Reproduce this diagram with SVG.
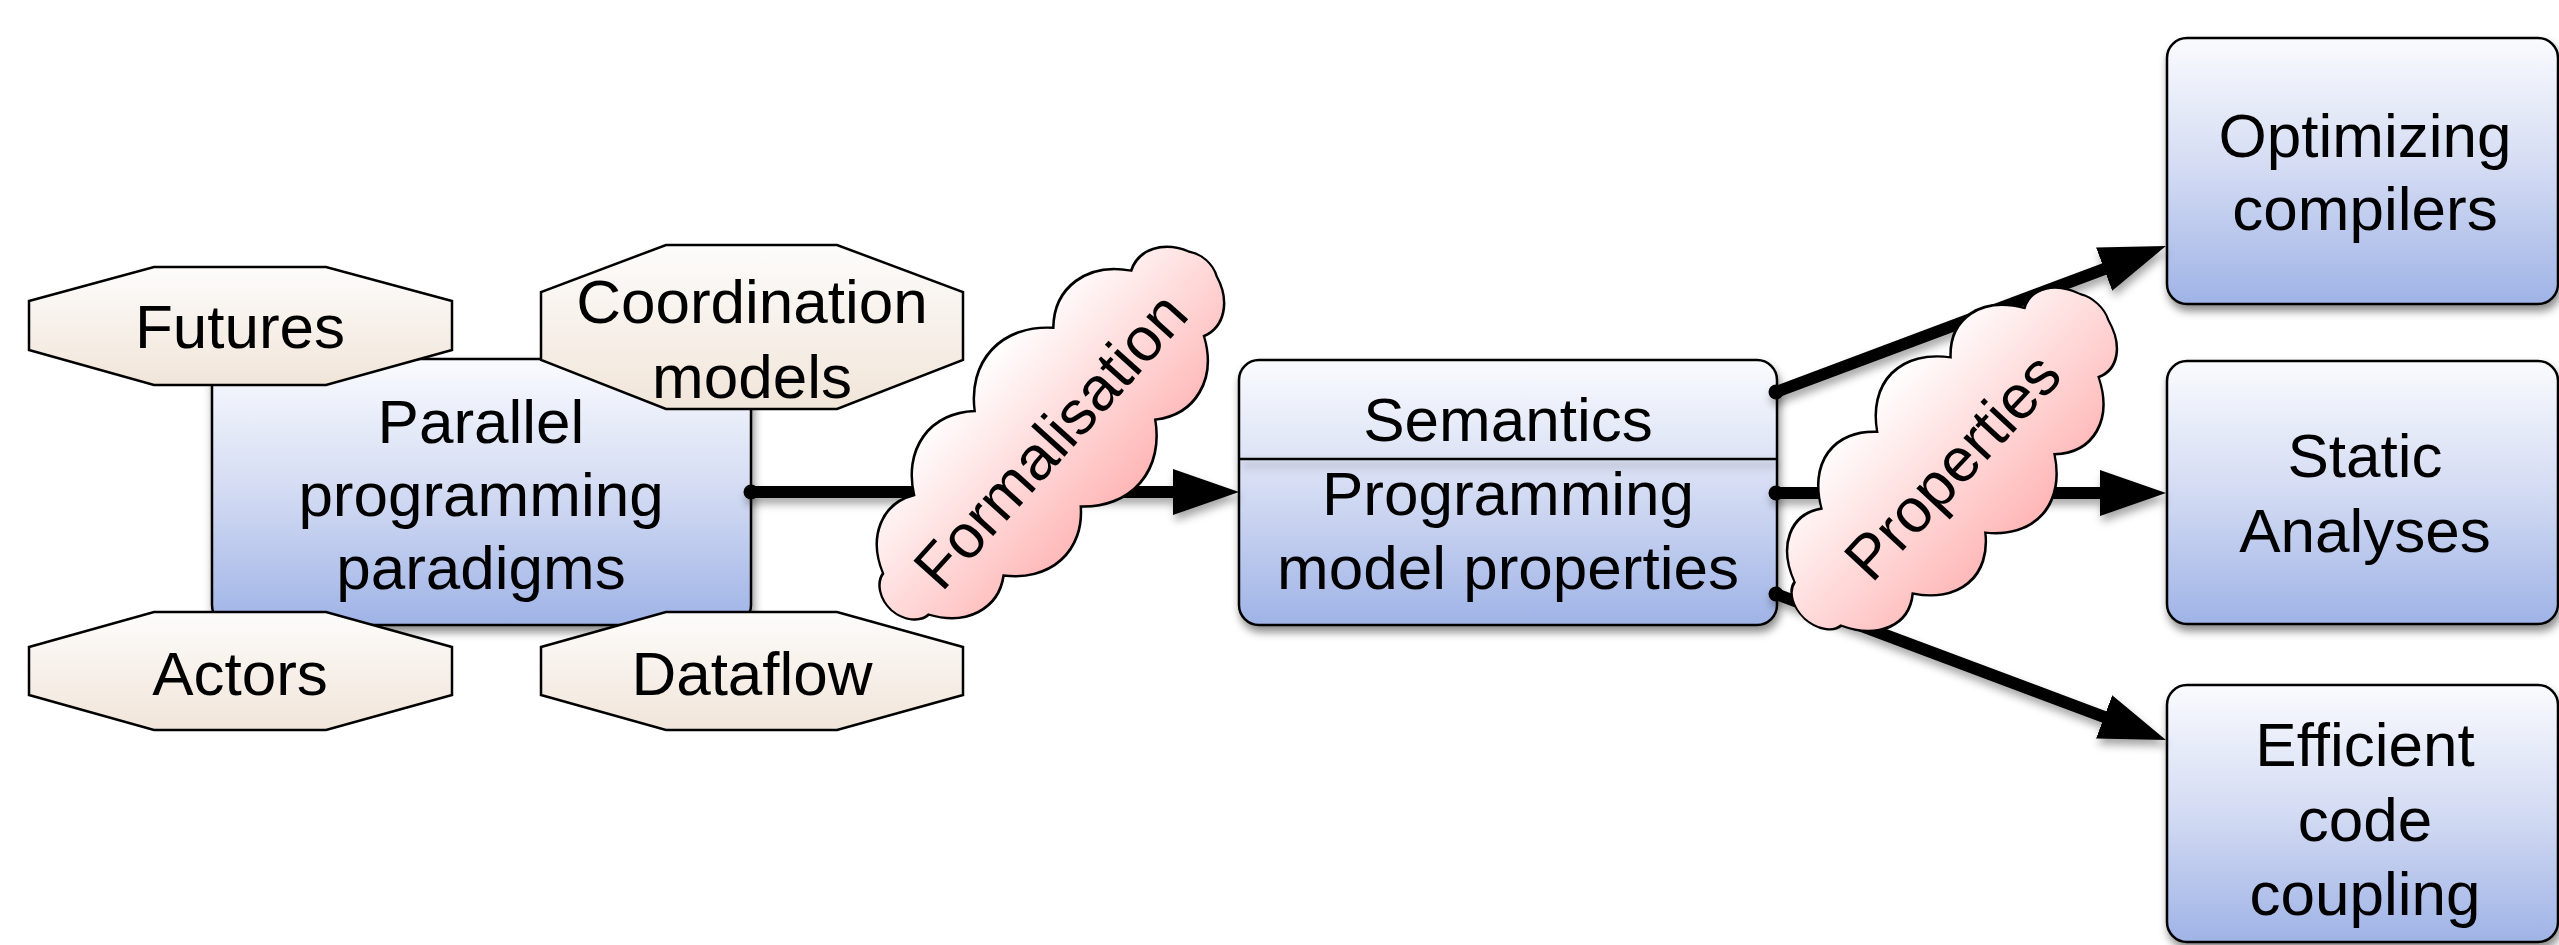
<svg xmlns="http://www.w3.org/2000/svg" width="2559" height="945" viewBox="0 0 2559 945">
  <style>
    text { font-family: "Liberation Sans", Arial, Helvetica, sans-serif; font-size: 62px; fill: #000; text-anchor: middle; }
    .box { fill: url(#blueFill); stroke: #000; stroke-width: 2.5; }
    .oct { fill: url(#beigeFill); stroke: #000; stroke-width: 2.5; stroke-linejoin: miter; }
    .cloud { fill: url(#pinkFill); stroke: #000; stroke-width: 2; }
    .wire { fill: none; stroke: #000; stroke-width: 12; marker-end: url(#head); }
    .dot { fill: #000; }
  </style>
  <defs>
    <linearGradient id="blueFill" x1="0" y1="0" x2="0" y2="1">
      <stop offset="0" stop-color="#fafbfe"/>
      <stop offset="0.5" stop-color="#d3dbf3"/>
      <stop offset="1" stop-color="#9fb3e6"/>
    </linearGradient>
    <linearGradient id="beigeFill" x1="0" y1="0" x2="0" y2="1">
      <stop offset="0" stop-color="#fdfcfb"/>
      <stop offset="1" stop-color="#f1e5d9"/>
    </linearGradient>
    <linearGradient id="pinkFill" x1="0" y1="0" x2="0" y2="1">
      <stop offset="0" stop-color="#ffffff"/>
      <stop offset="1" stop-color="#ffb6b6"/>
    </linearGradient>
    <filter id="boxShadow" filterUnits="userSpaceOnUse" x="0" y="0" width="2559" height="945">
      <feDropShadow dx="2" dy="6" stdDeviation="4" flood-color="#000" flood-opacity="0.45"/>
    </filter>
    <filter id="wireShadow" filterUnits="userSpaceOnUse" x="0" y="0" width="2559" height="945">
      <feDropShadow dx="2" dy="6" stdDeviation="4" flood-color="#000" flood-opacity="0.35"/>
    </filter>
    <marker id="head" markerUnits="userSpaceOnUse" markerWidth="66" markerHeight="48" viewBox="0 0 66 48" refX="2" refY="24" orient="auto">
      <path d="M0,1 L66,24 L0,47 Z" fill="#000"/>
    </marker>
    <!-- bumpy cloud outline, long axis along x -->
    <path id="cloudShape" d="M -228 0 A 23 23 0 0 1 -207 -22 A 59 59 0 0 1 -131 -43 A 74 74 0 0 1 -32 -51 A 82 82 0 0 1 78 -49 A 69 69 0 0 1 169 -35 A 42 42 0 0 1 220 -13 A 20 20 0 0 1 220 13 A 42 42 0 0 1 169 35 A 69 69 0 0 1 78 49 A 82 82 0 0 1 -32 51 A 74 74 0 0 1 -131 43 A 59 59 0 0 1 -207 22 A 23 23 0 0 1 -228 0 Z"/>
  </defs>

  <rect width="2559" height="945" fill="#fff"/>

  <!-- central paradigm box -->
  <g id="paradigms" filter="url(#boxShadow)">
    <rect class="box" x="212" y="359" width="539" height="266" rx="20"/>
  </g>
  <g id="paradigms-label">
    <text x="481" y="443">Parallel</text>
    <text x="481" y="516">programming</text>
    <text x="481" y="589">paradigms</text>
  </g>

  <!-- paradigm variants -->
  <g id="futures">
    <polygon class="oct" points="154,267 326,267 452,301 452,350 326,385 154,385 29,350 29,301"/>
    <text x="240" y="348">Futures</text>
  </g>
  <g id="coordination">
    <polygon class="oct" points="666,245 837,245 963,292 963,360 837,409 666,409 541,360 541,292"/>
    <text x="752" y="323">Coordination</text>
    <text x="752" y="398">models</text>
  </g>
  <g id="actors">
    <polygon class="oct" points="154,612 326,612 452,647 452,695 326,730 154,730 29,695 29,647"/>
    <text x="240" y="695">Actors</text>
  </g>
  <g id="dataflow">
    <polygon class="oct" points="666,612 837,612 963,647 963,695 837,730 666,730 541,695 541,647"/>
    <text x="752" y="695">Dataflow</text>
  </g>

  <!-- semantics box with two compartments -->
  <g id="semantics">
    <rect class="box" x="1239" y="360" width="538" height="265" rx="20" filter="url(#boxShadow)"/>
    <line x1="1240" y1="459" x2="1776" y2="459" stroke="#000" stroke-width="2.5" filter="url(#wireShadow)"/>
    <text x="1508" y="441">Semantics</text>
    <text x="1508" y="515">Programming</text>
    <text x="1508" y="589">model properties</text>
  </g>

  <!-- targets -->
  <g id="compilers">
    <rect class="box" x="2167" y="38" width="391" height="266" rx="20" filter="url(#boxShadow)"/>
    <text x="2365" y="157">Optimizing</text>
    <text x="2365" y="230">compilers</text>
  </g>
  <g id="analyses">
    <rect class="box" x="2167" y="361" width="391" height="263" rx="20" filter="url(#boxShadow)"/>
    <text x="2365" y="477">Static</text>
    <text x="2365" y="552">Analyses</text>
  </g>
  <g id="coupling">
    <rect class="box" x="2167" y="685" width="391" height="257" rx="20" filter="url(#boxShadow)"/>
    <text x="2365" y="766">Efficient</text>
    <text x="2365" y="841">code</text>
    <text x="2365" y="915">coupling</text>
  </g>

  <!-- connectors -->
  <g id="connectors" filter="url(#wireShadow)">
    <path class="wire" d="M751,492 L1175,492"/>
    <path class="wire" d="M1776,392 L2106,268.4"/>
    <path class="wire" d="M1776,493 L2102,493"/>
    <path class="wire" d="M1776,594 L2106,717.6"/>
    <circle class="dot" cx="751" cy="492" r="7.5"/>
    <circle class="dot" cx="1776" cy="392" r="7.5"/>
    <circle class="dot" cx="1776" cy="493" r="7.5"/>
    <circle class="dot" cx="1776" cy="594" r="7.5"/>
  </g>

  <!-- connector labels drawn as clouds -->
  <g id="formalisation">
    <use href="#cloudShape" class="cloud" transform="translate(1050,434) rotate(-48) scale(1.04,1.4)"/>
    <text transform="translate(1050,440) rotate(-48)" y="22">Formalisation</text>
  </g>
  <g id="properties">
    <use href="#cloudShape" class="cloud" transform="translate(1952,460) rotate(-47) scale(0.95,1.45)"/>
    <text transform="translate(1952,466) rotate(-47)" y="22">Properties</text>
  </g>
</svg>
